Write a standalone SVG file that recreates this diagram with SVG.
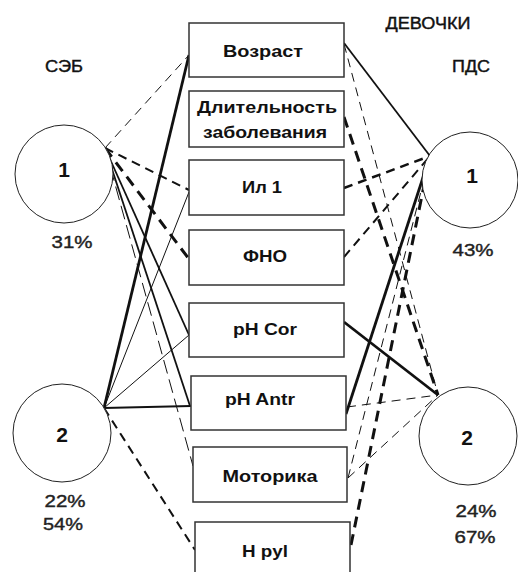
<svg xmlns="http://www.w3.org/2000/svg" width="518" height="572" viewBox="0 0 518 572">
  <style>
    .box { fill: #fff; stroke: #333; stroke-width: 1.5; }
    .circ { fill: #fff; stroke: #222; stroke-width: 1; }
    .lbl { font-family: "Liberation Sans", Arial, sans-serif; font-weight: bold; font-size: 17px; fill: #111; text-anchor: middle; }
    .num { font-family: "Liberation Sans", Arial, sans-serif; font-weight: bold; font-size: 21px; fill: #111; text-anchor: middle; }
    .pct { font-family: "Liberation Sans", Arial, sans-serif; font-size: 17px; fill: #222; text-anchor: middle; stroke: #222; stroke-width: 0.4; }
    .ttl { font-family: "Liberation Sans", Arial, sans-serif; font-size: 16px; fill: #111; text-anchor: middle; stroke: #111; stroke-width: 0.4; }
    .c { stroke: #111; fill: none; stroke-linecap: butt; }
    .s1 { stroke-width: 1; }
    .s2 { stroke-width: 1.8; }
    .s3 { stroke-width: 2.8; }
    .dthin { stroke-width: 1; stroke-dasharray: 9 6; }
    .dmed { stroke-width: 2; stroke-dasharray: 9 6; }
    .dthick { stroke-width: 3; stroke-dasharray: 11 7; }
  </style>

  <!-- headings -->
  <text class="ttl" x="428" y="29" textLength="85" lengthAdjust="spacingAndGlyphs">ДЕВОЧКИ</text>
  <text class="ttl" x="64" y="72" textLength="38" lengthAdjust="spacingAndGlyphs">СЭБ</text>
  <text class="ttl" x="471" y="72" textLength="38" lengthAdjust="spacingAndGlyphs">ПДС</text>

  <!-- connectors -->
  <g id="connectors">
    <!-- left cluster 1 -->
    <line class="c dthin" x1="105" y1="148" x2="189" y2="55"/>
    <line class="c dmed" x1="105" y1="148" x2="189" y2="190"/>
    <line class="c dthick" x1="105" y1="148" x2="189" y2="259"/>
    <line class="c s2" x1="105" y1="148" x2="189" y2="335"/>
    <line class="c s2" x1="105" y1="148" x2="190" y2="406"/>
    <line class="c dthin" x1="105" y1="148" x2="193" y2="466" style="stroke-dasharray:14 6"/>
    <!-- left cluster 2 -->
    <line class="c s3" x1="104" y1="408" x2="189" y2="55"/>
    <line class="c s1" x1="104" y1="408" x2="189" y2="192"/>
    <line class="c s1" x1="104" y1="408" x2="189" y2="335"/>
    <line class="c s2" x1="104" y1="408" x2="191" y2="406"/>
    <line class="c dmed" x1="104" y1="408" x2="195" y2="550"/>
    <!-- right cluster 1 -->
    <line class="c s2" x1="344" y1="43" x2="430" y2="156"/>
    <line class="c dmed" x1="344" y1="188" x2="430" y2="156" style="stroke-width:2.5"/>
    <line class="c dmed" x1="344" y1="257" x2="430" y2="156"/>
    <line class="c s3" x1="346" y1="414" x2="430" y2="156"/>
    <line class="c dthin" x1="348" y1="478" x2="430" y2="156"/>
    <line class="c dthick" x1="351" y1="545" x2="430" y2="156"/>
    <!-- right cluster 2 -->
    <line class="c dthin" x1="344" y1="44" x2="438" y2="395"/>
    <line class="c dthick" x1="344" y1="117" x2="438" y2="395"/>
    <line class="c s3" x1="344" y1="322" x2="438" y2="395"/>
    <line class="c dthin" x1="347" y1="407" x2="438" y2="395"/>
    <line class="c dthin" x1="348" y1="478" x2="438" y2="395"/>
  </g>

  <!-- factor boxes -->
  <g id="vozrast">
    <rect class="box" x="189" y="23" width="155" height="54"/>
    <text class="lbl" x="263" y="57" textLength="80" lengthAdjust="spacingAndGlyphs">Возраст</text>
  </g>
  <g id="dlitelnost">
    <rect class="box" x="189" y="91" width="155" height="56"/>
    <text class="lbl" x="267" y="113" textLength="140" lengthAdjust="spacingAndGlyphs">Длительность</text>
    <text class="lbl" x="265" y="138" textLength="124" lengthAdjust="spacingAndGlyphs">заболевания</text>
  </g>
  <g id="il1">
    <rect class="box" x="189" y="160" width="155" height="55"/>
    <text class="lbl" x="262" y="193" textLength="40" lengthAdjust="spacingAndGlyphs">Ил 1</text>
  </g>
  <g id="fno">
    <rect class="box" x="189" y="230" width="155" height="55"/>
    <text class="lbl" x="265" y="262" textLength="44" lengthAdjust="spacingAndGlyphs">ФНО</text>
  </g>
  <g id="ph-cor">
    <rect class="box" x="189" y="303" width="155" height="54"/>
    <text class="lbl" x="265" y="335" textLength="64" lengthAdjust="spacingAndGlyphs">pH Cor</text>
  </g>
  <g id="ph-antr">
    <rect class="box" x="191" y="376" width="155" height="54"/>
    <text class="lbl" x="260" y="405" textLength="70" lengthAdjust="spacingAndGlyphs">pH Antr</text>
  </g>
  <g id="motorika">
    <rect class="box" x="193" y="447" width="154" height="55"/>
    <text class="lbl" x="270" y="482" textLength="95" lengthAdjust="spacingAndGlyphs">Моторика</text>
  </g>
  <g id="h-pyl">
    <rect class="box" x="195" y="522" width="155" height="60"/>
    <text class="lbl" x="265" y="557" textLength="46" lengthAdjust="spacingAndGlyphs">H pyl</text>
  </g>

  <!-- clusters -->
  <g id="seb-1">
    <circle class="circ" cx="64" cy="174" r="49"/>
    <text class="num" x="64" y="177">1</text>
    <text class="pct" x="72" y="248" textLength="41" lengthAdjust="spacingAndGlyphs">31%</text>
  </g>
  <g id="seb-2">
    <circle class="circ" cx="62" cy="433" r="49"/>
    <text class="num" x="62" y="442">2</text>
    <text class="pct" x="65" y="507" textLength="41" lengthAdjust="spacingAndGlyphs">22%</text>
    <text class="pct" x="63" y="530" textLength="40" lengthAdjust="spacingAndGlyphs">54%</text>
  </g>
  <g id="pds-1">
    <circle class="circ" cx="470" cy="180" r="48"/>
    <text class="num" x="472" y="183">1</text>
    <text class="pct" x="473" y="256" textLength="41" lengthAdjust="spacingAndGlyphs">43%</text>
  </g>
  <g id="pds-2">
    <circle class="circ" cx="468" cy="436" r="49"/>
    <text class="num" x="467" y="445">2</text>
    <text class="pct" x="476" y="517" textLength="41" lengthAdjust="spacingAndGlyphs">24%</text>
    <text class="pct" x="475" y="543" textLength="41" lengthAdjust="spacingAndGlyphs">67%</text>
  </g>
</svg>
